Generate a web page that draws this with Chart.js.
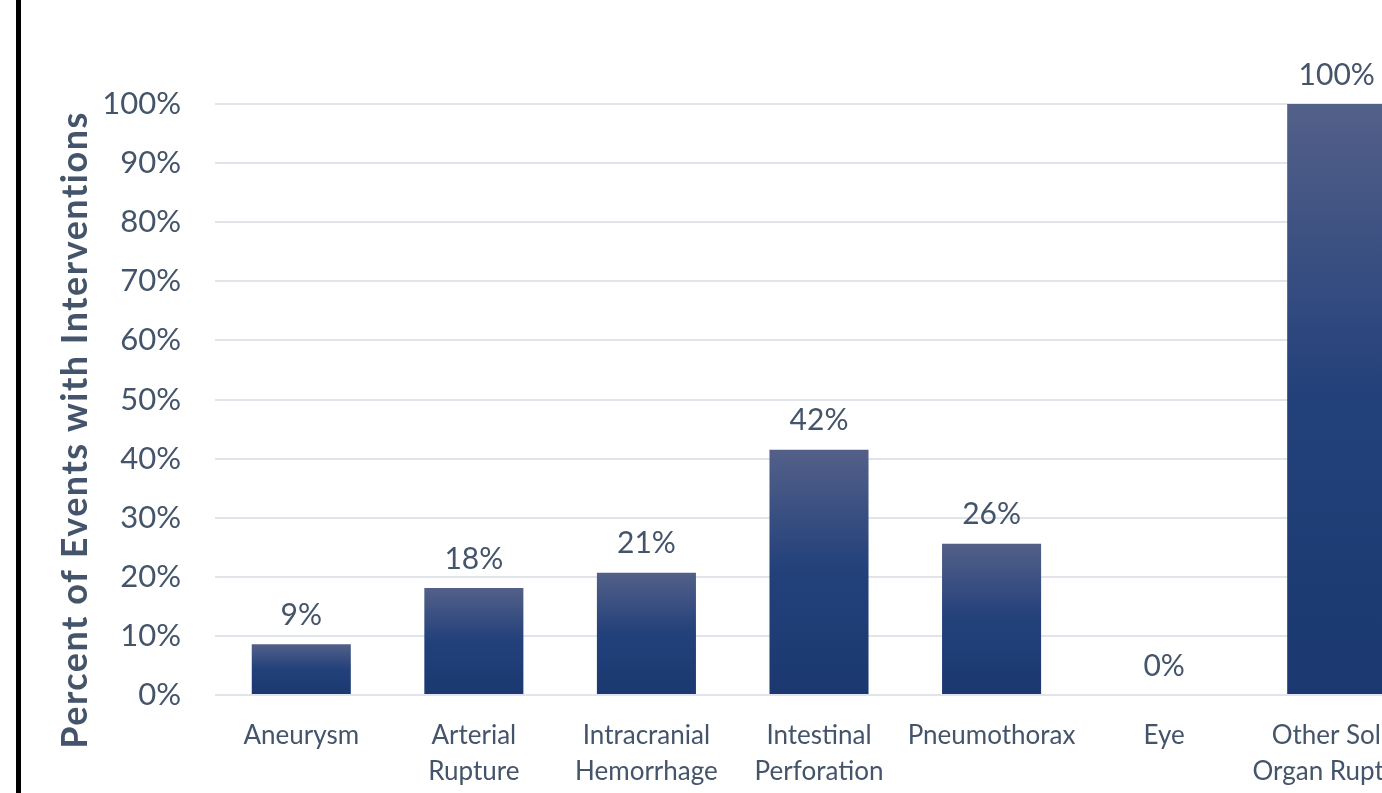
<!DOCTYPE html>
<html>
<head>
<meta charset="utf-8">
<script src="https://cdn.jsdelivr.net/npm/chart.js@4"></script>
<style>
  html, body { margin: 0; padding: 0; background: #fff; overflow: hidden; }
  #frame { position: absolute; left: 0; top: 0; width: 1382px; height: 793px; overflow: hidden; }
  #rule { position: absolute; left: 16px; top: 0; width: 5px; height: 793px; background: #000; }
  #box { position: absolute; left: 0; top: 0; width: 1440px; height: 793px; }
</style>
</head>
<body>
<div id="frame">
  <div id="box"><canvas id="barChart"></canvas></div>
  <div id="rule"></div>
</div>
<script>
const categories = [
    'Aneurysm',
    ['Arterial', 'Rupture'],
    ['Intracranial', 'Hemorrhage'],
    ['Intestinal', 'Perforation'],
    'Pneumothorax',
    'Eye',
    ['Other Solid', 'Organ Rupture']
];
const percentValues = [8.6, 18.1, 20.7, 41.5, 25.6, 0, 100];
const valueLabels = ['9%', '18%', '21%', '42%', '26%', '0%', '100%'];
const yAxisTitle = 'Percent of Events with Interventions';

const textColor = '#44546A';
const fontFamily = 'Lato, "Open Sans", sans-serif';

// gradient per bar, lighter at the top
function barGradient(context) {
    const chart = context.chart;
    if (!chart.chartArea || context.type !== 'data') return '#2B4478';
    const yScale = chart.scales.y;
    const top = yScale.getPixelForValue(context.raw);
    const base = yScale.getPixelForValue(0);
    if (base - top < 1) return '#1B3A6F';
    const g = chart.ctx.createLinearGradient(0, top, 0, base);
    g.addColorStop(0, '#536089');
    g.addColorStop(0.5, '#22407A');
    g.addColorStop(1, '#1B3970');
    return g;
}

const valueLabelPlugin = {
    id: 'valueLabels',
    afterDatasetsDraw(chart) {
        const ctx = chart.ctx;
        const meta = chart.getDatasetMeta(0);
        ctx.save();
        ctx.fillStyle = textColor;
        ctx.font = '30px ' + fontFamily;
        ctx.textAlign = 'center';
        ctx.textBaseline = 'middle';
        meta.data.forEach((bar, i) => {
            ctx.fillText(valueLabels[i], bar.x, bar.y - 29);
        });
        // y axis title
        ctx.translate(75, 430);
        ctx.rotate(-Math.PI / 2);
        ctx.font = 'bold 36px ' + fontFamily;
        ctx.letterSpacing = '1.5px';
        ctx.fillText(yAxisTitle, 0, 0);
        ctx.restore();
    }
};

new Chart(document.getElementById('barChart').getContext('2d'), {
    type: 'bar',
    data: {
        labels: categories,
        datasets: [{
            data: percentValues,
            backgroundColor: barGradient,
            borderWidth: 0,
            categoryPercentage: 1,
            barPercentage: 0.574
        }]
    },
    options: {
        responsive: true,
        maintainAspectRatio: false,
        animation: false,
        layout: { padding: { top: 104, right: 17, left: 0, bottom: 0 } },
        plugins: {
            legend: { display: false },
            tooltip: { enabled: false }
        },
        scales: {
            x: {
                grid: { display: false },
                border: { display: false },
                ticks: {
                    color: textColor,
                    font: { family: fontFamily, size: 26, lineHeight: 1.38 },
                    padding: 15,
                    maxRotation: 0,
                    autoSkip: false
                },
                afterFit(scale) { scale.height = 98; }
            },
            y: {
                min: 0,
                max: 100,
                grid: { color: '#E1E5EB', lineWidth: 2, drawTicks: false },
                border: { display: false },
                ticks: {
                    stepSize: 10,
                    color: textColor,
                    font: { family: fontFamily, size: 31 },
                    padding: 34,
                    callback: v => v + '%'
                },
                afterFit(scale) { scale.width = 215; }
            }
        }
    },
    plugins: [valueLabelPlugin]
});
</script>
</body>
</html>
